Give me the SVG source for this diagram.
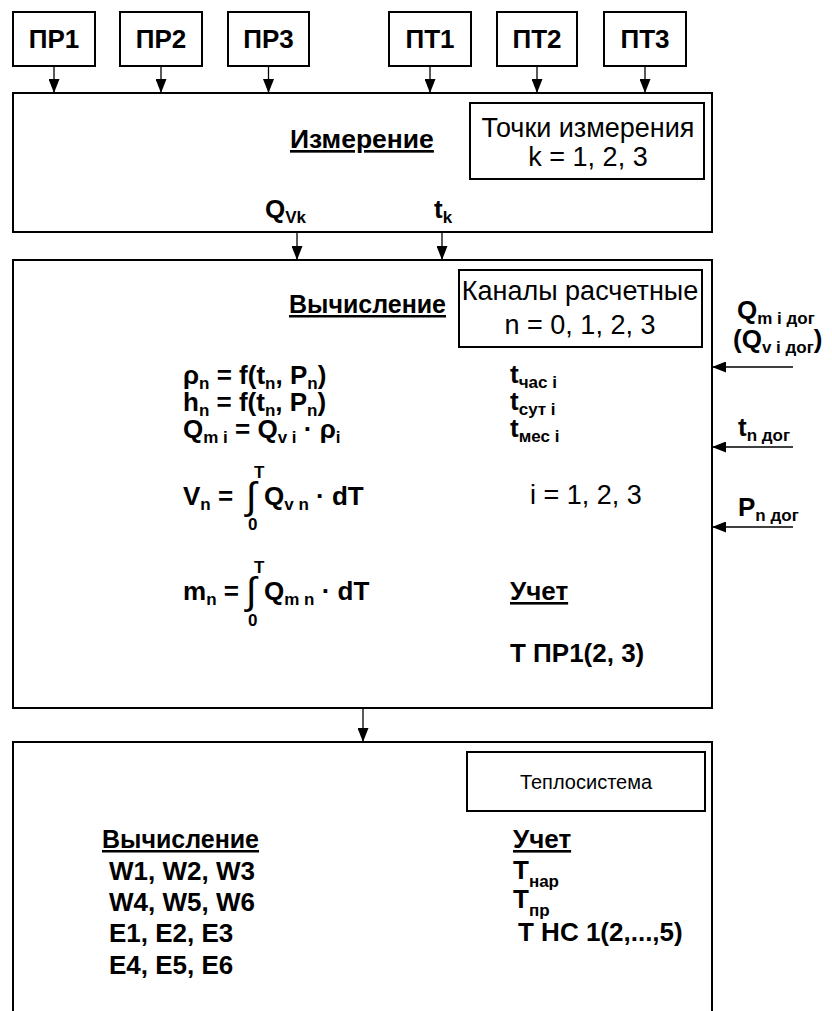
<svg xmlns="http://www.w3.org/2000/svg" width="832" height="1011" viewBox="0 0 832 1011">
<defs>
<style>
.box{fill:#fff;stroke:#000;stroke-width:2}
.ibox{fill:none;stroke:#000;stroke-width:2}
.b{font-family:"Liberation Sans",Arial,sans-serif;font-weight:bold;font-size:26px;fill:#000}
.r{font-family:"Liberation Sans",Arial,sans-serif;font-size:27px;fill:#000}
.s{font-size:17px}
.u{text-decoration:underline}
.int{font-family:"Liberation Sans",Arial,sans-serif;font-size:38px;fill:#000}
.conn{stroke:#000;stroke-width:1.3;fill:none;marker-end:url(#ah)}
.c{text-anchor:middle}
</style>
<marker id="ah" viewBox="0 0 14 11" refX="14" refY="5.5" markerWidth="14" markerHeight="11" markerUnits="userSpaceOnUse" orient="auto">
<path d="M0,0 L14,5.5 L0,11 z" fill="#000"/>
</marker>
</defs>
<rect width="832" height="1011" fill="#fff"/>

<g id="pr1"><rect class="box" x="13" y="12" width="82" height="54"/><text class="b c" x="54" y="48">ПР1</text></g>
<g id="pr2"><rect class="box" x="120" y="12" width="82" height="54"/><text class="b c" x="161" y="48">ПР2</text></g>
<g id="pr3"><rect class="box" x="228" y="12" width="81" height="54"/><text class="b c" x="268.5" y="48">ПР3</text></g>
<g id="pt1"><rect class="box" x="389" y="12" width="82" height="54"/><text class="b c" x="430" y="48">ПТ1</text></g>
<g id="pt2"><rect class="box" x="497" y="12" width="80" height="54"/><text class="b c" x="537" y="48">ПТ2</text></g>
<g id="pt3"><rect class="box" x="604" y="12" width="82" height="54"/><text class="b c" x="645" y="48">ПТ3</text></g>

<g id="measure">
<rect class="box" x="13" y="93" width="699" height="139"/>
<text class="b u" x="290" y="148" style="font-size:26.5px">Измерение</text>
<rect class="ibox" x="470" y="103" width="234" height="76"/>
<text class="r c" x="588" y="137">Точки измерения</text>
<text class="r c" x="588" y="166">k = 1, 2, 3</text>
<text class="b" x="265" y="218">Q<tspan class="s" dy="5">Vk</tspan></text>
<text class="b" x="434" y="218">t<tspan class="s" dy="5">k</tspan></text>
</g>

<g id="compute">
<rect class="box" x="13" y="260" width="699" height="448"/>
<text class="b u" x="289" y="313" style="font-size:25px">Вычисление</text>
<rect class="ibox" x="459" y="270" width="243" height="77"/>
<text class="r c" x="580" y="300">Каналы расчетные</text>
<text class="r c" x="580" y="334">n = 0, 1, 2, 3</text>
<text class="b" x="183" y="384">ρ<tspan class="s" dy="5">n</tspan><tspan dy="-5"> = f(t</tspan><tspan class="s" dy="5">n</tspan><tspan dy="-5">, P</tspan><tspan class="s" dy="5">n</tspan><tspan dy="-5">)</tspan></text>
<text class="b" x="183" y="411">h<tspan class="s" dy="5">n</tspan><tspan dy="-5"> = f(t</tspan><tspan class="s" dy="5">n</tspan><tspan dy="-5">, P</tspan><tspan class="s" dy="5">n</tspan><tspan dy="-5">)</tspan></text>
<text class="b" x="183" y="438">Q<tspan class="s" dy="5">m i</tspan><tspan dy="-5"> = Q</tspan><tspan class="s" dy="5">v i</tspan><tspan dy="-5"> · ρ</tspan><tspan class="s" dy="5">i</tspan></text>
<text class="b" x="510" y="383">t<tspan class="s" dy="5">час i</tspan></text>
<text class="b" x="510" y="410">t<tspan class="s" dy="5">сут i</tspan></text>
<text class="b" x="510" y="437">t<tspan class="s" dy="5">мес i</tspan></text>
<text class="b" x="183" y="505">V<tspan class="s" dy="5">n</tspan><tspan dy="-5"> =</tspan></text>
<text class="int" x="246" y="509">∫</text>
<text class="b s" x="254" y="478">T</text>
<text class="b s" x="248" y="530">0</text>
<text class="b" x="264" y="505">Q<tspan class="s" dy="5">v n</tspan><tspan dy="-5"> · dT</tspan></text>
<text class="r" x="530" y="504">i = 1, 2, 3</text>
<text class="b" x="183" y="600">m<tspan class="s" dy="5">n</tspan><tspan dy="-5"> =</tspan></text>
<text class="int" x="246" y="604">∫</text>
<text class="b s" x="254" y="573">T</text>
<text class="b s" x="248" y="626">0</text>
<text class="b" x="264" y="600">Q<tspan class="s" dy="5">m  n</tspan><tspan dy="-5"> · dT</tspan></text>
<text class="b u" x="510" y="600">Учет</text>
<text class="b" x="510" y="662">Т ПР1(2, 3)</text>
<text class="b" x="737" y="319">Q<tspan class="s" dy="5">m i дог</tspan></text>
<text class="b" x="733" y="348">(Q<tspan class="s" dy="5">v i дог</tspan><tspan dy="-5">)</tspan></text>
<text class="b" x="738" y="436">t<tspan class="s" dy="5">n дог</tspan></text>
<text class="b" x="738" y="516">P<tspan class="s" dy="5">n дог</tspan></text>
</g>

<g id="heatsystem">
<path class="ibox" d="M13,1011 V742 H712 V1011"/>
<rect class="ibox" x="467" y="752" width="238" height="59"/>
<text class="r c" x="586" y="789" style="font-size:20px">Теплосистема</text>
<text class="b u" x="102" y="848" style="font-size:25px">Вычисление</text>
<text class="b" x="109" y="880">W1, W2, W3</text>
<text class="b" x="109" y="911">W4, W5, W6</text>
<text class="b" x="109" y="942">E1, E2, E3</text>
<text class="b" x="109" y="974">E4, E5, E6</text>
<text class="b u" x="513" y="848">Учет</text>
<text class="b" x="513" y="879">Т<tspan class="s" dy="8">нар</tspan></text>
<text class="b" x="513" y="908">Т<tspan class="s" dy="8">пр</tspan></text>
<text class="b" x="518" y="941">Т НС 1(2,...,5)</text>
</g>

<g id="connectors">
<line class="conn" x1="54" y1="66" x2="54" y2="93"/>
<line class="conn" x1="161" y1="66" x2="161" y2="93"/>
<line class="conn" x1="268.5" y1="66" x2="268.5" y2="93"/>
<line class="conn" x1="430" y1="66" x2="430" y2="93"/>
<line class="conn" x1="537" y1="66" x2="537" y2="93"/>
<line class="conn" x1="645" y1="66" x2="645" y2="93"/>
<line class="conn" x1="297" y1="232" x2="297" y2="260"/>
<line class="conn" x1="442" y1="232" x2="442" y2="260"/>
<line class="conn" x1="363" y1="708" x2="363" y2="742"/>
<line class="conn" x1="793" y1="367" x2="712" y2="367"/>
<line class="conn" x1="793" y1="447" x2="712" y2="447"/>
<line class="conn" x1="793" y1="527" x2="712" y2="527"/>
</g>
</svg>
